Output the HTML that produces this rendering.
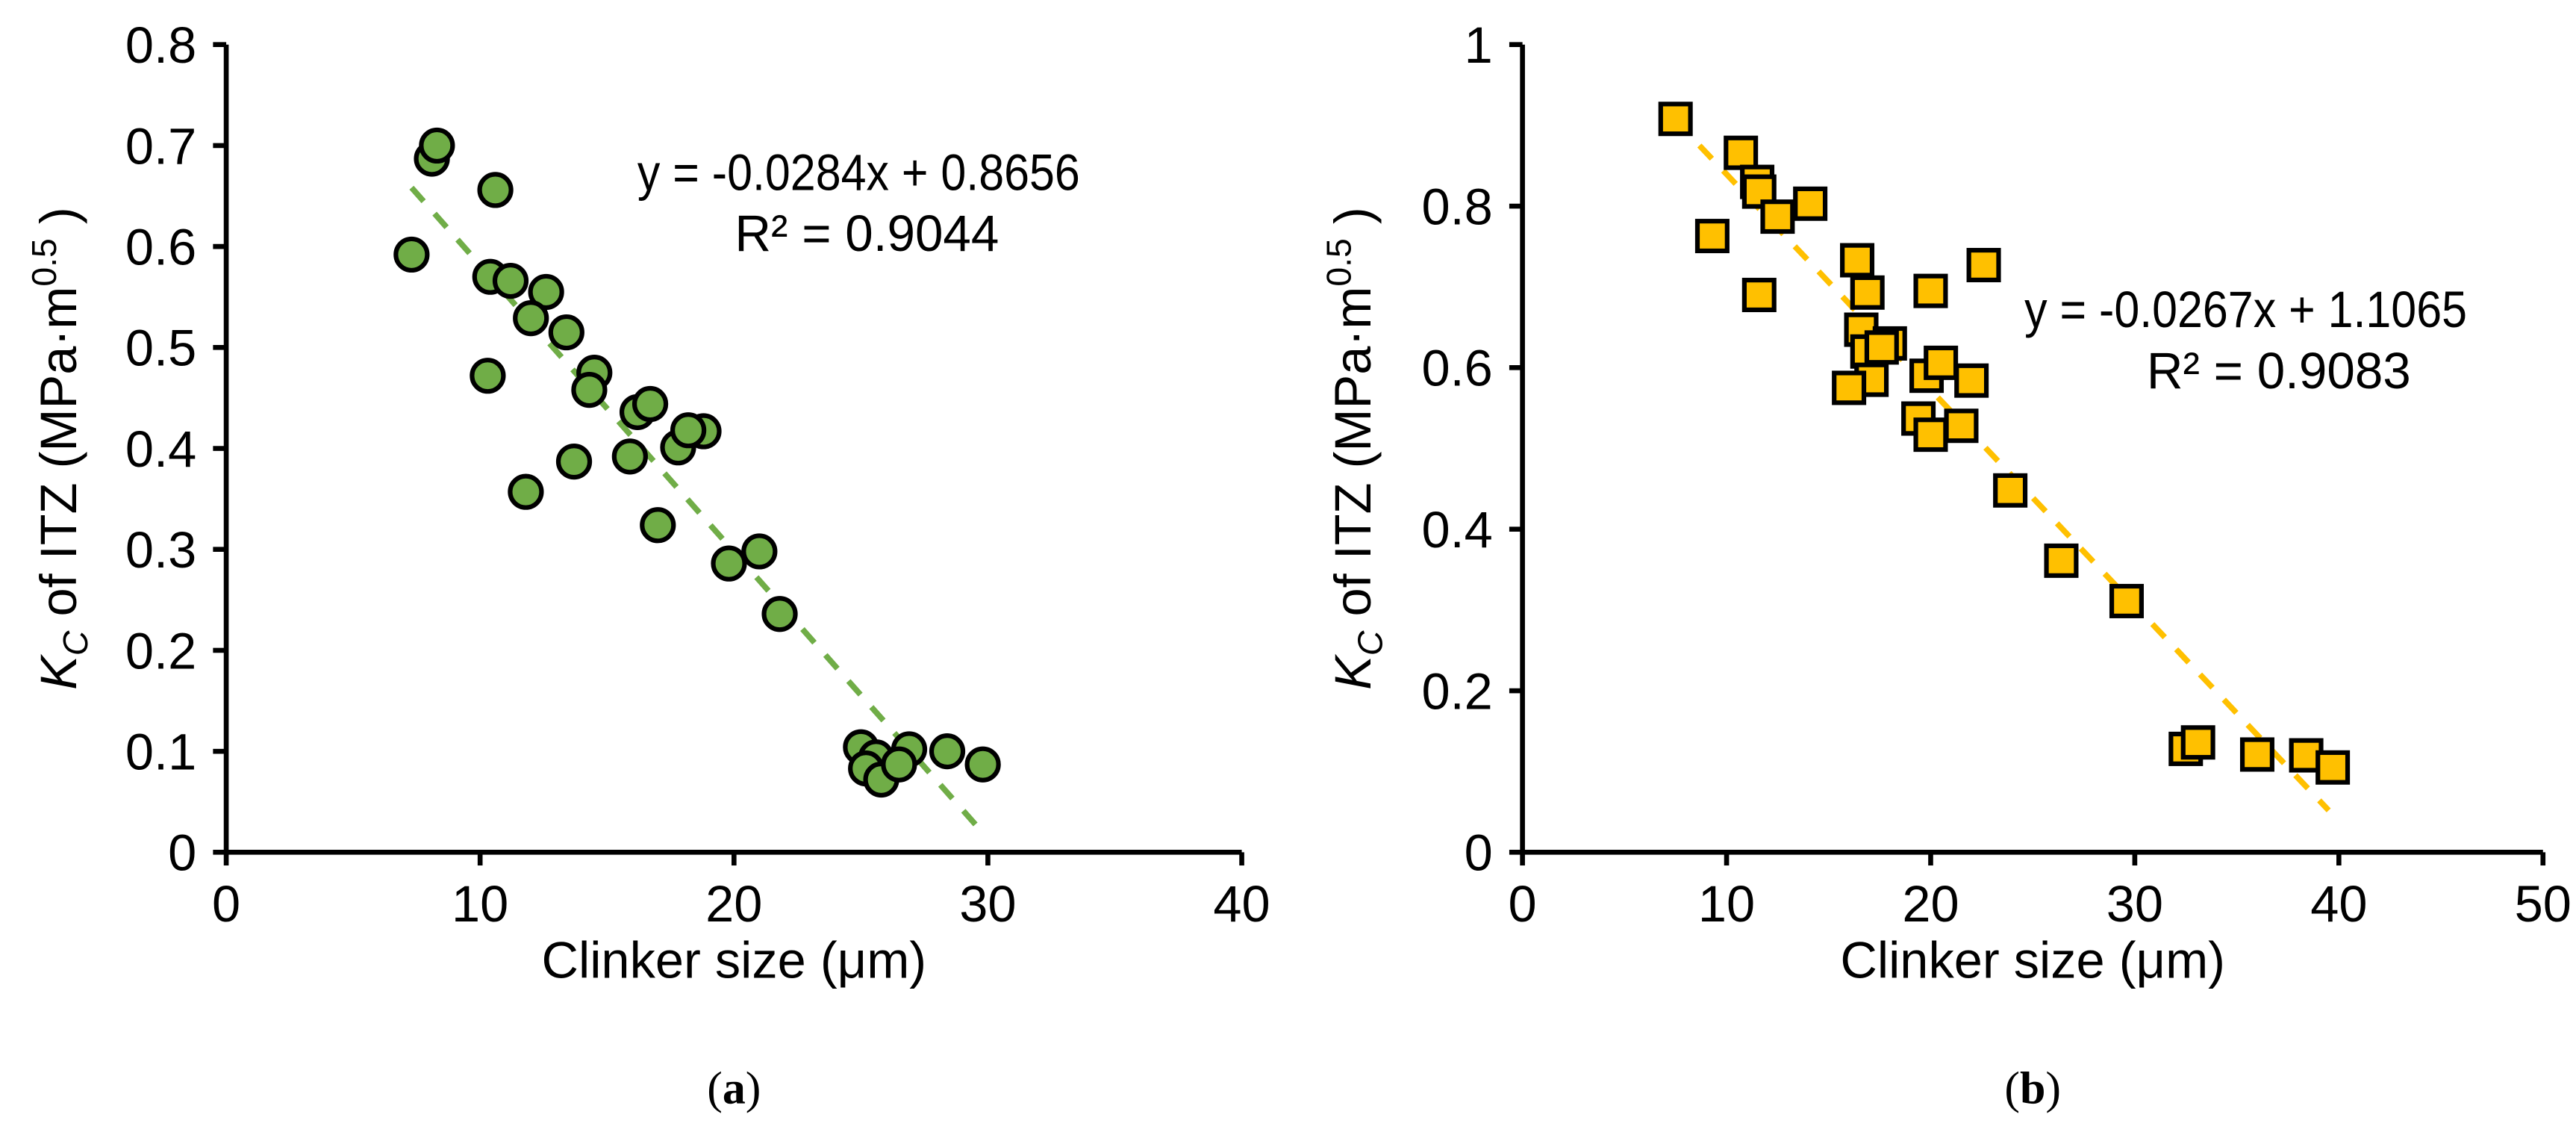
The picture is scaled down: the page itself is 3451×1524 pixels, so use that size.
<!DOCTYPE html>
<html><head><meta charset="utf-8"><style>
html,body{margin:0;padding:0;background:#fff;}
svg{display:block;font-family:"Liberation Sans",sans-serif;}
</style></head><body>
<svg id="fig" width="3451" height="1524" viewBox="0 0 1560 689" preserveAspectRatio="none"></svg>
<script>
// Panel (a) data
const aX = [7.3,8.1,8.3,10.6,10.3,10.4,11.2,12.6,12.0,13.4,11.8,14.5,14.3,13.7,16.2,16.7,15.9,17.0,17.8,18.8,18.2,19.8,21.0,21.8,25.0,25.6,25.2,25.8,26.9,26.5,28.4,29.8];
const aY = [0.592,0.687,0.700,0.656,0.472,0.570,0.566,0.555,0.529,0.515,0.357,0.475,0.458,0.387,0.436,0.444,0.392,0.324,0.401,0.417,0.418,0.286,0.298,0.236,0.104,0.094,0.083,0.072,0.102,0.087,0.100,0.087];
// Panel (b) data
const bX = [7.5,10.7,11.5,11.6,12.5,14.1,9.3,11.6,16.4,16.9,16.6,16.9,18.0,17.6,17.1,16.0,20.0,19.8,20.5,22.0,22.6,19.4,20.0,21.5,23.9,26.4,29.6,32.5,33.1,36.0,38.4,39.7];
const bY = [0.908,0.866,0.830,0.818,0.787,0.803,0.763,0.690,0.733,0.693,0.647,0.620,0.630,0.625,0.585,0.575,0.695,0.590,0.606,0.584,0.727,0.537,0.517,0.528,0.448,0.361,0.311,0.128,0.136,0.121,0.120,0.105];
const aXTicks = ["0","10","20","30","40"];
const aYTicks = ["0","0.1","0.2","0.3","0.4","0.5","0.6","0.7","0.8"];
const bXTicks = ["0","10","20","30","40","50"];
const bYTicks = ["0","0.2","0.4","0.6","0.8","1"];
const aFit = [-0.0284,0.8656], aFitRange=[7.3,29.7];
const bFit = [-0.0267,1.1065], bFitRange=[7.5,39.5];

const NS="http://www.w3.org/2000/svg";
const svg=document.getElementById('fig');
function el(tag,attrs,parent,text){const e=document.createElementNS(NS,tag);for(const k in attrs)e.setAttribute(k,attrs[k]);if(text!==undefined)e.textContent=text;(parent||svg).appendChild(e);return e;}

function panel(cfg){
  const g=el('g',{});
  
  
  const sx=v=>cfg.x0+(v-cfg.xmin)/(cfg.xmax-cfg.xmin)*(cfg.x1-cfg.x0);
  const sy=v=>cfg.y0-(v-cfg.ymin)/(cfg.ymax-cfg.ymin)*(cfg.y0-cfg.y1);
  const ya=el('line',{x1:cfg.x0,y1:cfg.y1,x2:cfg.x0,y2:cfg.y0,stroke:'#000','stroke-width':3},g);
  
  
  const xa=el('line',{x1:cfg.x0-1.5,y1:cfg.y0,x2:cfg.x1,y2:cfg.y0,stroke:'#000','stroke-width':3},g);
  
  
  cfg.yt.forEach((t,i)=>{const v=cfg.ymin+i*(cfg.ymax-cfg.ymin)/(cfg.yt.length-1);const y=sy(v);
    el('line',{x1:cfg.x0-8,y1:y,x2:cfg.x0,y2:y,stroke:'#000','stroke-width':3},g);
    const tx=el('text',{x:cfg.x0-18,y:y+11,'font-size':31,'text-anchor':'end'},g,t);
    
    });
  cfg.xt.forEach((t,i)=>{const v=cfg.xmin+i*(cfg.xmax-cfg.xmin)/(cfg.xt.length-1);const x=sx(v);
    el('line',{x1:x,y1:cfg.y0,x2:x,y2:cfg.y0+8,stroke:'#000','stroke-width':3},g);
    const tx=el('text',{x:x,y:cfg.y0+42,'font-size':31,'text-anchor':'middle'},g,t);
    
    });
  const tl=el('line',{x1:sx(cfg.fr[0]),y1:sy(cfg.fit[0]*cfg.fr[0]+cfg.fit[1]),x2:sx(cfg.fr[1]),y2:sy(cfg.fit[0]*cfg.fr[1]+cfg.fit[1]),stroke:cfg.line,'stroke-width':3.5,'stroke-dasharray':'11 10'},g);
  
  
  cfg.xs.forEach((xv,i)=>{const cx=sx(xv),cy=sy(cfg.ys[i]);let m;
    if(cfg.shape==='circle'){m=el('circle',{cx:cx,cy:cy,r:9.5,fill:cfg.fill,stroke:'#000','stroke-width':2.8},g);}
    else{m=el('rect',{x:cx-9,y:cy-9,width:18,height:18,fill:cfg.fill,stroke:'#000','stroke-width':2.8},g);}
    
    });
  const xt=el('text',{x:(cfg.x0+cfg.x1)/2,y:cfg.y0+76,'font-size':31,'text-anchor':'middle'},g,'Clinker size (μm)');
  
  
  const yt=el('text',{x:0,y:0,'font-size':31,'text-anchor':'middle',transform:`translate(${cfg.ytx},${(cfg.y0+cfg.y1)/2}) rotate(-90)`},g);
  
  
  el('tspan',{'font-style':'italic'},yt,'K');
  el('tspan',{'font-style':'italic','font-size':21,dy:7},yt,'C');
  el('tspan',{dy:-7},yt,' of ITZ (MPa·m');
  el('tspan',{'font-size':21,dy:-12},yt,'0.5');
  el('tspan',{dy:12},yt,' )');
  const e1=el('text',{x:cfg.eqx,y:cfg.eqy,'font-size':31,'text-anchor':'middle',textLength:268,lengthAdjust:'spacingAndGlyphs'},g,cfg.eq);
  
  
  const e2=el('text',{x:cfg.eqx+cfg.r2dx,y:cfg.eqy+37,'font-size':31,'text-anchor':'middle',textLength:160,lengthAdjust:'spacingAndGlyphs'},g,cfg.r2);
  
  
  const cap=el('text',{x:(cfg.x0+cfg.x1)/2,y:668,'font-size':28,'text-anchor':'middle','font-family':'Liberation Serif, serif'},g);
  
  
  el('tspan',{},cap,'(');
  el('tspan',{'font-weight':'bold'},cap,cfg.cap);
  el('tspan',{},cap,')');
}
panel({name:'panel-a',x0:137,x1:752,y0:516,y1:27,xmin:0,xmax:40,ymin:0,ymax:0.8,xs:aX,ys:aY,xt:aXTicks,yt:aYTicks,fit:aFit,fr:aFitRange,line:'#70ad47',fill:'#70ad47',shape:'circle',ytx:46,eq:'y = -0.0284x + 0.8656',r2:'R² = 0.9044',eqx:520,eqy:115,r2dx:5,cap:'a'});
panel({name:'panel-b',x0:922,x1:1540,y0:516,y1:27,xmin:0,xmax:50,ymin:0,ymax:1,xs:bX,ys:bY,xt:bXTicks,yt:bYTicks,fit:bFit,fr:bFitRange,line:'#ffc000',fill:'#ffc000',shape:'square',ytx:830,eq:'y = -0.0267x + 1.1065',r2:'R² = 0.9083',eqx:1360,eqy:198,r2dx:20,cap:'b'});
</script>
</body></html>
